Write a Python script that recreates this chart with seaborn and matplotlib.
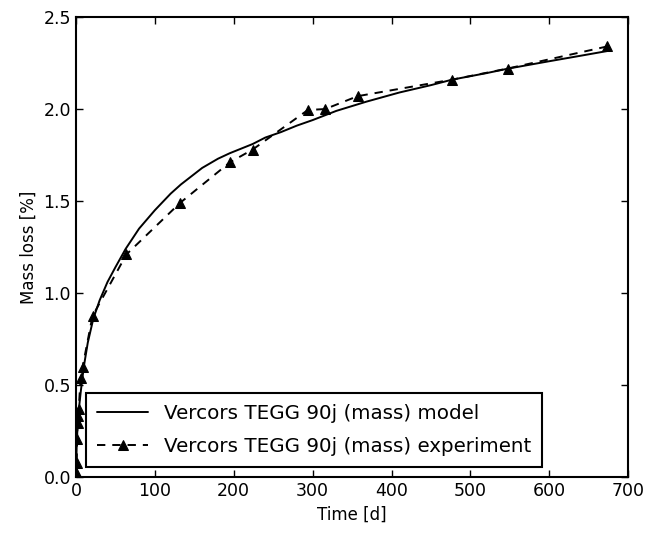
import numpy as np
import pandas as pd
import matplotlib
matplotlib.use("Agg")
import matplotlib.pyplot as plt
import seaborn as sns

# Model curve
model_t = [0, 1, 2, 4, 6, 10, 15, 22, 30, 40, 50, 63, 80, 100, 120, 133,
           160, 180, 195, 224, 240, 260, 280, 300, 330, 368, 410, 450, 477,
           520, 548, 600, 640, 673]
model_y = [0.0, 0.18, 0.27, 0.38, 0.46, 0.60, 0.73, 0.86, 0.96, 1.06, 1.14,
           1.24, 1.35, 1.45, 1.54, 1.59, 1.68, 1.73, 1.76, 1.81, 1.845, 1.875,
           1.91, 1.94, 1.99, 2.04, 2.09, 2.13, 2.16, 2.195, 2.22, 2.26, 2.29,
           2.315]

# Experimental points
exp_t = [0, 0.5, 1, 1.5, 2, 3, 3.5, 6, 8.5, 21, 64, 132, 195, 224,
         294, 316, 357, 477, 547, 673]
exp_y = [0.0, 0.03, 0.075, 0.205, 0.295, 0.33, 0.37, 0.54, 0.60, 0.875,
         1.21, 1.49, 1.71, 1.78, 1.995, 2.00, 2.07, 2.16, 2.22, 2.34]

model_label = "Vercors TEGG 90j (mass) model"
exp_label = "Vercors TEGG 90j (mass) experiment"

sns.set_style("ticks")
plt.rcParams['font.family'] = ['DejaVu Sans']
plt.rcParams['text.color'] = 'black'
plt.rcParams['axes.labelcolor'] = 'black'
plt.rcParams['xtick.direction'] = 'in'
plt.rcParams['ytick.direction'] = 'in'
plt.rcParams['xtick.top'] = True
plt.rcParams['ytick.right'] = True
plt.rcParams['xtick.major.size'] = 5
plt.rcParams['ytick.major.size'] = 5
plt.rcParams['lines.scale_dashes'] = False

fig = plt.figure(figsize=(6.49, 5.33), dpi=100)
ax = fig.add_axes([0.117, 0.105, 0.851, 0.863])

df_model = pd.DataFrame({'t': model_t, 'y': model_y})
df_exp = pd.DataFrame({'t': exp_t, 'y': exp_y})

sns.lineplot(data=df_model, x='t', y='y', ax=ax, color='black',
             linewidth=1.4, label=model_label, sort=False)
sns.lineplot(data=df_exp, x='t', y='y', ax=ax, color='black',
             linewidth=1.4, linestyle=(0, (6, 5)), marker='^', markersize=7,
             markeredgecolor='black', label=exp_label, sort=False)

ax.set_xlim(0, 700)
ax.set_ylim(0, 2.5)
ax.set_xticks(np.arange(0, 701, 100))
ax.set_yticks(np.arange(0, 2.51, 0.5))
ax.set_xlabel('Time [d]', fontsize=12)
ax.set_ylabel('Mass loss [%]', fontsize=12)
ax.tick_params(labelsize=12.5, width=1, colors='black')
for s in ax.spines.values():
    s.set_linewidth(1.5)
    s.set_color('black')

leg = ax.legend(loc='lower left', fontsize=14.3, fancybox=False,
                edgecolor='black', framealpha=1, numpoints=1,
                handlelength=2.6, borderaxespad=0.5,
                labelspacing=0.7, borderpad=0.55)
leg.get_frame().set_linewidth(1.5)

fig.savefig('out.png', dpi=100)
